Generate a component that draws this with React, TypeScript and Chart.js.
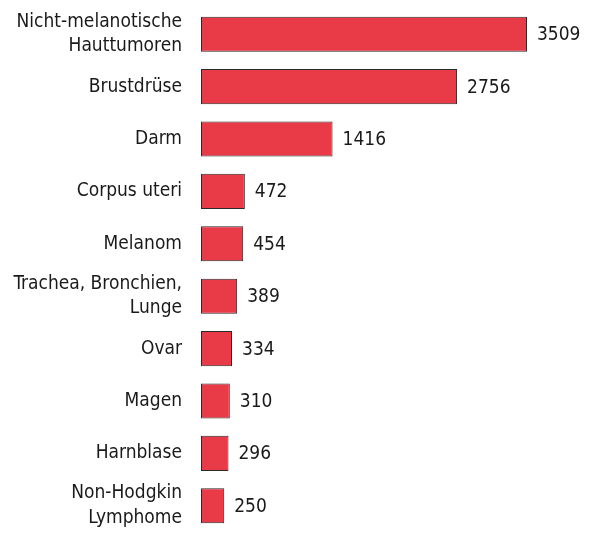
import React, { useEffect, useRef } from "react";
import { Chart, registerables } from "chart.js";

Chart.register(...registerables);

const categories: (string | string[])[] = [
  ["Nicht-melanotische", "Hauttumoren"],
  "Brustdrüse",
  "Darm",
  "Corpus uteri",
  "Melanom",
  ["Trachea, Bronchien,", "Lunge"],
  "Ovar",
  "Magen",
  "Harnblase",
  ["Non-Hodgkin", "Lymphome"],
];
const values: number[] = [3509, 2756, 1416, 472, 454, 389, 334, 310, 296, 250];

const FONT = "'DejaVu Sans Condensed', 'Liberation Sans Narrow', sans-serif";

const valueLabels = {
  id: "valueLabels",
  afterDatasetsDraw(chart: any) {
    const ctx = chart.ctx;
    const meta = chart.getDatasetMeta(0);
    ctx.save();
    ctx.font = `19px ${FONT}`;
    ctx.fillStyle = "#1a1a1a";
    ctx.textAlign = "left";
    ctx.textBaseline = "middle";
    meta.data.forEach((bar: any, i: number) => {
      ctx.fillText(String(values[i]), bar.x + 10, bar.y + 1);
    });
    ctx.restore();
  },
};

export default function App() {
  const ref = useRef<HTMLCanvasElement>(null);
  useEffect(() => {
    if (!ref.current) return;
    const chart = new Chart(ref.current, {
      type: "bar",
      data: {
        labels: categories,
        datasets: [
          {
            data: values,
            backgroundColor: "#E93B47",
            borderColor: "#2a2a2a",
            borderWidth: 1,
            borderSkipped: false,
            categoryPercentage: 1,
            barPercentage: 0.67,
          },
        ],
      },
      options: {
        indexAxis: "y",
        animation: false,
        responsive: false,
        layout: { padding: { top: 8, bottom: 1, left: 0, right: 64 } },
        plugins: { legend: { display: false }, tooltip: { enabled: false } },
        scales: {
          x: { display: false, min: 0, max: 3509 },
          y: {
            grid: { display: false, drawTicks: false },
            border: { display: false },
            ticks: {
              autoSkip: false,
              padding: 19,
              color: "#1a1a1a",
              font: { family: FONT, size: 19, lineHeight: 1.3 },
            },
            afterFit(scale: any) {
              scale.width = 201;
              scale.paddingTop = 0;
              scale.paddingBottom = 0;
            },
          },
        },
      },
      plugins: [valueLabels],
    });
    return () => chart.destroy();
  }, []);
  return (
    <div style={{ position: "fixed", left: 0, top: 0, width: 591, height: 533, background: "#fff" }}>
      <canvas ref={ref} width={591} height={533} />
    </div>
  );
}
